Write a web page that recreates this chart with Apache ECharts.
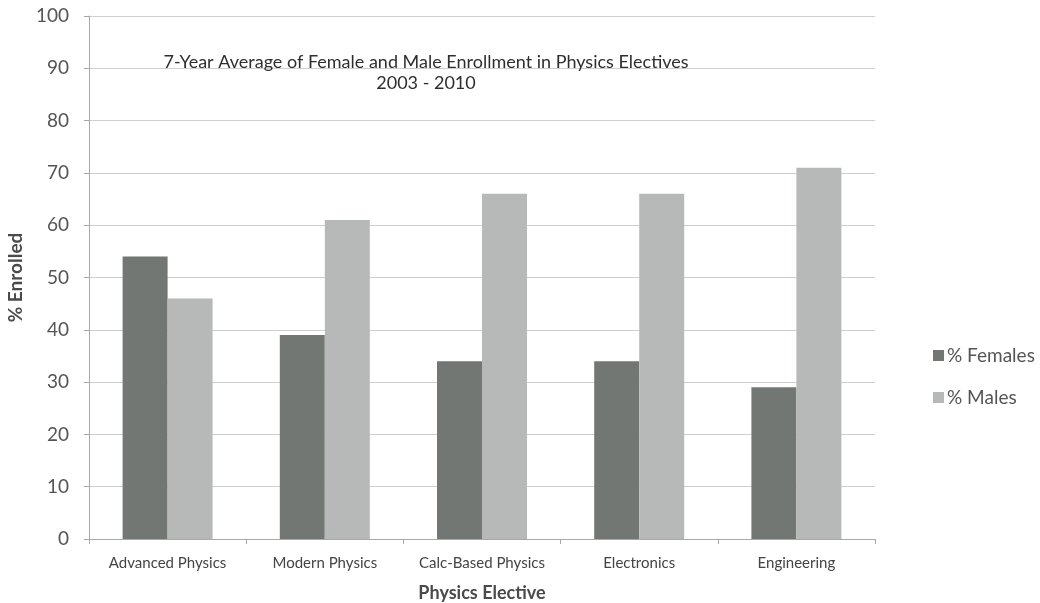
<!DOCTYPE html>
<html>
<head>
<meta charset="utf-8">
<script src="https://cdn.jsdelivr.net/npm/echarts@6/dist/echarts.min.js"></script>
<style>
  html, body { margin: 0; padding: 0; background: #ffffff; }
  #chart { width: 1040px; height: 603px; }
</style>
</head>
<body>
<div id="chart"></div>
<script>
// Physics elective enrollment by gender, 7-year average (percent)
const categories = ['Advanced Physics', 'Modern Physics', 'Calc-Based Physics', 'Electronics', 'Engineering'];
const femalePct = [54, 39, 34, 34, 29];
const malePct = [46, 61, 66, 66, 71];
const seriesNames = ['% Females', '% Males'];
const titleLines = ['7-Year Average of Female and Male Enrollment in Physics Electives', '2003 - 2010'];

const font = 'Lato, "Open Sans", sans-serif';
const chart = echarts.init(document.getElementById('chart'), null, { renderer: 'canvas' });

chart.setOption({
  backgroundColor: '#ffffff',
  animation: false,
  title: {
    text: titleLines.join('\n'),
    left: 421,
    top: 47,
    textAlign: 'center',
    textStyle: {
      fontFamily: font,
      fontSize: 18,
      fontWeight: 'normal',
      color: '#2e2e2e',
      lineHeight: 21,
      align: 'center'
    }
  },
  legend: {
    orient: 'vertical',
    left: 928,
    top: 341,
    itemWidth: 11,
    itemHeight: 11,
    itemGap: 23,
    icon: 'rect',
    data: seriesNames,
    textStyle: { fontFamily: font, fontSize: 19, color: '#555555', padding: [0, 0, 0, -2] }
  },
  grid: { left: 89, right: 165, top: 16, bottom: 64, containLabel: false, outerBoundsMode: 'none' },
  xAxis: {
    type: 'category',
    data: categories,
    name: 'Physics Elective',
    nameLocation: 'middle',
    nameGap: 45,
    nameTextStyle: { fontFamily: font, fontSize: 18, fontWeight: 'bold', color: '#4a4a4a' },
    axisLine: { lineStyle: { color: '#a8a8a8', width: 1 } },
    axisTick: { show: true, length: 5, lineStyle: { color: '#a8a8a8' } },
    axisLabel: { fontFamily: font, fontSize: 15, color: '#444444', margin: 17, interval: 0 }
  },
  yAxis: {
    type: 'value',
    min: 0,
    max: 100,
    interval: 10,
    name: '% Enrolled',
    nameLocation: 'middle',
    nameGap: 63,
    nameRotate: 90,
    nameTextStyle: { fontFamily: font, fontSize: 19, fontWeight: 'bold', color: '#4a4a4a' },
    axisLine: { show: true, lineStyle: { color: '#a8a8a8', width: 1 } },
    axisTick: { show: true, length: 5, lineStyle: { color: '#a8a8a8' } },
    axisLabel: { fontFamily: font, fontSize: 19, color: '#555555', margin: 20 },
    splitLine: { lineStyle: { color: '#cfcfcf', width: 1 } }
  },
  series: [
    {
      name: seriesNames[0],
      type: 'bar',
      data: femalePct,
      barWidth: 45,
      barGap: '0%',
      itemStyle: { color: '#727774' }
    },
    {
      name: seriesNames[1],
      type: 'bar',
      data: malePct,
      barWidth: 45,
      itemStyle: { color: '#b6b9b8' }
    }
  ]
});
</script>
</body>
</html>
